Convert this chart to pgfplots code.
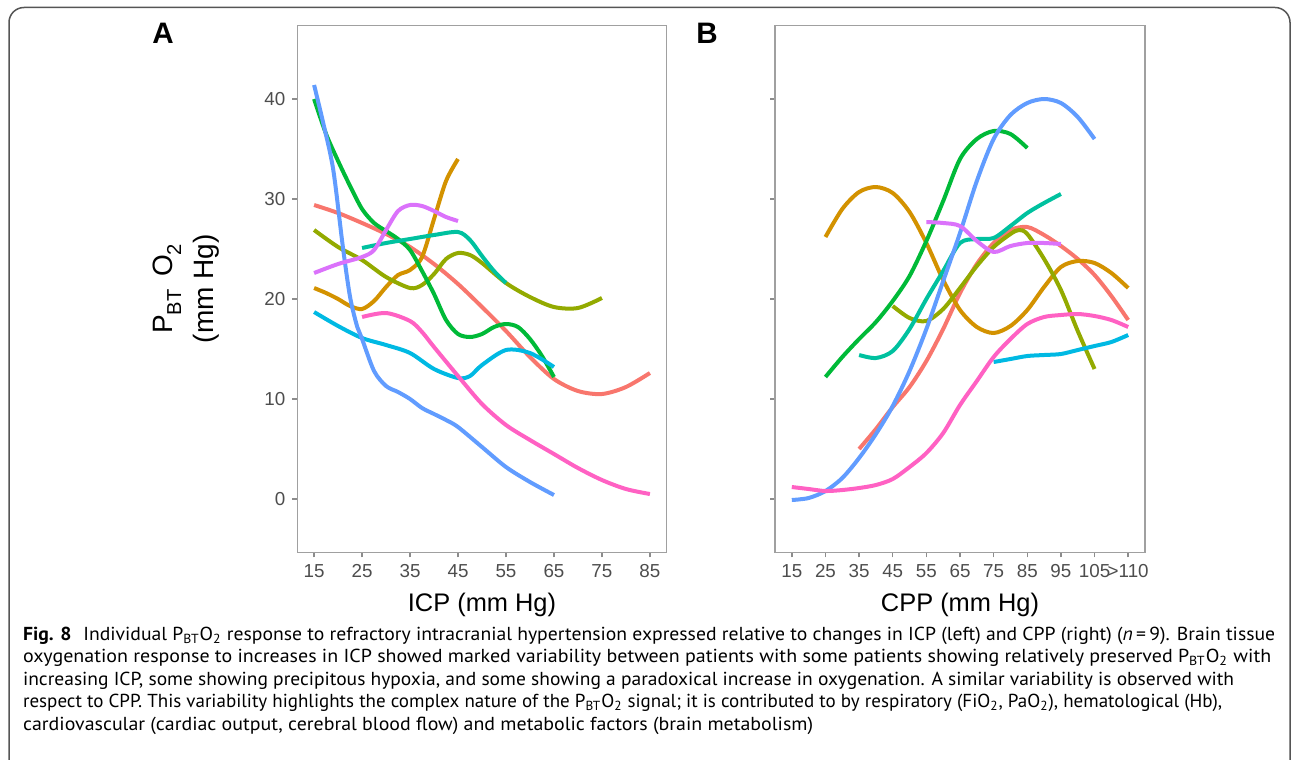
\documentclass[border=0pt]{standalone}
\usepackage{pgfplots}
\pgfplotsset{compat=1.18}
\usepackage{fontspec}
\setmainfont{Liberation Sans}
\newfontfamily\capfont{PT Sans}
\definecolor{c1}{HTML}{F8766D}
\definecolor{c2}{HTML}{D39200}
\definecolor{c3}{HTML}{93AA00}
\definecolor{c4}{HTML}{00BA38}
\definecolor{c5}{HTML}{00C19F}
\definecolor{c6}{HTML}{00B9E3}
\definecolor{c7}{HTML}{619CFF}
\definecolor{c8}{HTML}{DB72FB}
\definecolor{c9}{HTML}{FF61C3}
\definecolor{framegray}{HTML}{A0A0A0}
\definecolor{tickgray}{HTML}{8C8C8C}
\definecolor{labgray}{HTML}{4D4D4D}
\definecolor{bordergray}{HTML}{555555}
\newcommand{\ysub}[1]{\raisebox{-0.33em}{\scalebox{0.72}{#1}}}
\newcommand{\pbt}{P\textsubscript{BT}O\textsubscript{2}}
\newcommand{\capf}{\capfont\fontsize{9.4}{11}\selectfont}
\pgfplotsset{
  panel/.style={
    scale only axis, height=263.5pt,
    ymin=-5.33, ymax=47.37, ytick={0,10,20,30,40},
    tick align=outside, major tick length=2.5pt,
    xtick pos=left, ytick pos=left,
    axis line style={draw=framegray, line width=0.75pt},
    tick style={draw=tickgray, line width=0.75pt},
    ticklabel style={font=\fontsize{9.4}{11}\selectfont, text=labgray},
    /pgf/number format/assume math mode=true,
    xlabel style={font=\fontsize{12.7}{15}\selectfont, at={(axis description cs:0.5,0)}, anchor=base, yshift=-29.35pt},
    every axis plot/.append style={line width=2pt, smooth, tension=0.5, no markers, line join=round, line cap=butt},
  },
}
\begin{document}
\begin{tikzpicture}
\path[use as bounding box] (0,0) rectangle (646.5pt,-379.5pt);
\draw[bordergray, line width=0.75pt] (4.5pt,-385pt) -- (4.5pt,-11.25pt) arc[start angle=180, end angle=90, radius=7.5pt] -- (637.5pt,-3.75pt) arc[start angle=90, end angle=0, radius=7.5pt] -- (645pt,-385pt);
% Panel A
\begin{axis}[panel, name=A, anchor=north west, at={(148.65pt,-12.65pt)}, width=184.7pt,
  xmin=11.5, xmax=88.5, xtick={15,25,35,45,55,65,75,85},
  xlabel={ICP (mm Hg)}]
\addplot[c1] coordinates {(15,29.4)(20,28.6)(25,27.6)(30,26.5)(35,25.2)(40,23.5)(45,21.5)(50,19.2)(55,16.8)(60,14.2)(65,12.0)(70,10.8)(75,10.5)(80,11.2)(85,12.6)};
\addplot[c2] coordinates {(15,21.1)(17.5,20.6)(20,20.0)(22.5,19.3)(25,19.0)(27.5,19.8)(30,21.2)(32.5,22.4)(35,22.9)(37.5,24.2)(40,28.0)(42.5,31.8)(45,34.0)};
\addplot[c3] coordinates {(15,26.9)(20,25.2)(25,23.9)(30,22.2)(35,21.1)(37.5,21.4)(40,22.5)(42.5,24.0)(45,24.6)(47.5,24.4)(50,23.6)(55,21.6)(60,20.2)(65,19.2)(70,19.1)(75,20.1)};
\addplot[c4] coordinates {(15,40)(17.5,36.5)(20,33.8)(22.5,31.3)(25,29.0)(27.5,27.6)(30,26.8)(32.5,26.0)(35,24.9)(37.5,22.8)(40,20.5)(42.5,17.9)(45,16.5)(47.5,16.2)(50,16.5)(52.5,17.2)(55,17.5)(57.5,17.2)(60,16.0)(62.5,14.3)(65,12.2)};
\addplot[c5] coordinates {(25,25.1)(30,25.6)(35,26.0)(40,26.4)(45,26.7)(47.5,25.9)(50,24.3)(52.5,22.8)(55,21.6)};
\addplot[c6] coordinates {(15,18.7)(20,17.3)(25,16.1)(30,15.4)(35,14.6)(40,13.0)(45,12.1)(47.5,12.3)(50,13.4)(55,14.9)(60,14.6)(65,13.2)};
\addplot[c7] coordinates {(15,41.4)(17,37.4)(19,32.9)(21,25.2)(22.5,20.2)(24,17.2)(25,16.0)(27.5,12.8)(30,11.3)(32.5,10.7)(35,10.0)(37.5,9.1)(40,8.5)(42.5,7.9)(45,7.2)(50,5.2)(55,3.2)(60,1.7)(65,0.4)};
\addplot[c8] coordinates {(15,22.6)(20,23.5)(25,24.2)(27.5,24.9)(30,26.9)(32.5,28.8)(35,29.4)(37.5,29.3)(40,28.8)(42.5,28.2)(45,27.8)};
\addplot[c9] coordinates {(25,18.2)(30,18.6)(35,17.8)(37.5,16.7)(40,15.2)(45,12.3)(50,9.5)(55,7.4)(60,5.9)(65,4.5)(70,3.1)(75,1.9)(80,1.0)(85,0.5)};
\end{axis}
% Panel B
\begin{axis}[panel, name=B, anchor=north west, at={(387.5pt,-12.65pt)}, width=185pt,
  xmin=10, xmax=120, xtick={15,25,35,45,55,65,75,85,95,105,115},
  xticklabels={15,25,35,45,55,65,75,85,95,105,>110}, yticklabels={},
  xlabel={CPP (mm Hg)}]
\addplot[c1] coordinates {(35,5.0)(40,7.0)(45,9.2)(50,11.2)(55,13.8)(60,17.0)(65,20.6)(70,23.5)(75,25.6)(80,26.9)(85,27.2)(90,26.4)(95,25.3)(100,24.0)(105,22.4)(110,20.3)(115,17.9)};
\addplot[c2] coordinates {(25,26.2)(30,29.0)(35,30.7)(40,31.2)(45,30.6)(50,28.7)(55,25.6)(60,21.9)(65,18.9)(70,17.2)(75,16.6)(80,17.3)(85,18.9)(90,21.2)(95,23.2)(100,23.8)(105,23.6)(110,22.6)(115,21.1)};
\addplot[c3] coordinates {(45,19.3)(50,18.1)(55,17.8)(60,19.0)(65,21.1)(70,23.3)(75,25.2)(80,26.5)(82.5,26.9)(85,26.5)(90,24.0)(95,20.9)(100,16.8)(105,13.0)};
\addplot[c4] coordinates {(25,12.2)(30,14.2)(35,16.0)(40,17.7)(45,19.8)(50,22.3)(55,25.8)(60,29.8)(65,34.0)(70,36.0)(75,36.8)(80,36.5)(85,35.1)};
\addplot[c5] coordinates {(35,14.4)(40,14.1)(45,14.8)(50,17.0)(55,20.0)(60,22.8)(65,25.6)(70,26.0)(75,26.1)(80,27.3)(85,28.6)(90,29.6)(95,30.5)};
\addplot[c6] coordinates {(75,13.7)(80,14.0)(85,14.3)(90,14.4)(95,14.5)(100,14.9)(105,15.3)(110,15.7)(115,16.4)};
\addplot[c7] coordinates {(15,-0.1)(20,0.1)(25,0.8)(30,2.1)(35,4.1)(40,6.5)(45,9.3)(50,12.8)(55,17.0)(60,21.8)(65,26.6)(70,31.8)(75,36.0)(80,38.4)(85,39.6)(90,40.0)(95,39.6)(100,38.2)(105,36.0)};
\addplot[c8] coordinates {(55,27.7)(60,27.6)(65,27.3)(70,25.8)(75,24.7)(80,25.3)(85,25.6)(90,25.6)(95,25.5)};
\addplot[c9] coordinates {(15,1.2)(20,1.0)(25,0.8)(30,0.9)(35,1.1)(40,1.4)(45,2.0)(50,3.2)(55,4.6)(60,6.6)(65,9.4)(70,11.8)(75,14.2)(80,16.0)(85,17.5)(90,18.2)(95,18.4)(100,18.5)(105,18.3)(110,17.9)(115,17.2)};
\end{axis}
% y axis title
\node[rotate=90, anchor=base, font=\fontsize{14}{16}\selectfont] at (86pt,-144.4pt) {P\ysub{BT}\,\ O\ysub{2}};
\node[rotate=90, anchor=base, font=\fontsize{14}{16}\selectfont] at (106.5pt,-144.4pt) {(mm Hg)};
% panel tags
\node[anchor=base, font=\fontsize{14.8}{16}\selectfont\bfseries, inner sep=0] at (81.5pt,-22pt) {A};
\node[anchor=base, font=\fontsize{14.8}{16}\selectfont\bfseries, inner sep=0] at (353.5pt,-22pt) {B};
% caption
\node[anchor=base west, inner sep=0] at (11.35pt,-320pt) {\resizebox{626pt}{\height}{\capf\textbf{Fig. 8}\hspace{0.6em}Individual \pbt\ response to refractory intracranial hypertension expressed relative to changes in ICP (left) and CPP (right) ({\itshape n}\,=\,9). Brain tissue}};
\node[anchor=base west, inner sep=0] at (11.35pt,-331.25pt) {\resizebox{624pt}{\height}{\capf oxygenation response to increases in ICP showed marked variability between patients with some patients showing relatively preserved \pbt\ with}};
\node[anchor=base west, inner sep=0] at (11.35pt,-342.5pt) {\resizebox{605.5pt}{\height}{\capf increasing ICP, some showing precipitous hypoxia, and some showing a paradoxical increase in oxygenation. A similar variability is observed with}};
\node[anchor=base west, inner sep=0] at (11.35pt,-353.75pt) {\resizebox{599.5pt}{\height}{\capf respect to CPP. This variability highlights the complex nature of the \pbt\ signal; it is contributed to by respiratory (FiO\textsubscript{2}, PaO\textsubscript{2}), hematological (Hb),}};
\node[anchor=base west, inner sep=0] at (11.35pt,-365pt) {\resizebox{395pt}{\height}{\capf cardiovascular (cardiac output, cerebral blood flow) and metabolic factors (brain metabolism)}};
\end{tikzpicture}
\end{document}
